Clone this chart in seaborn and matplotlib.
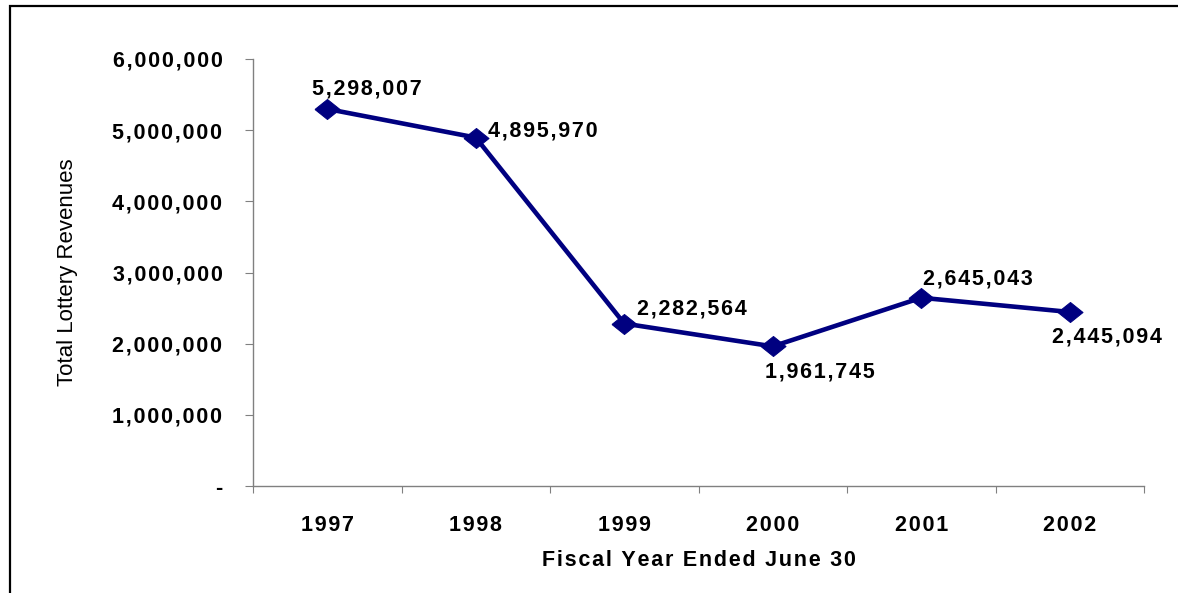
import matplotlib
matplotlib.use("Agg")
import matplotlib.pyplot as plt
from matplotlib.patches import Rectangle
import seaborn as sns
import pandas as pd

# Data
years = ["1997", "1998", "1999", "2000", "2001", "2002"]
revenues = [5298007, 4895970, 2282564, 1961745, 2645043, 2445094]
y_ticks = [0, 1000000, 2000000, 3000000, 4000000, 5000000, 6000000]

# Label offsets (pixels) relative to each point: left edge x, vertical centre y
label_offsets = [(-15, 20), (12, 7), (13, 15), (-8, -26), (2, 19), (-18, -25)]

sns.set_theme(style="white")
plt.rcParams["font.family"] = ["Liberation Sans", "DejaVu Sans"]

GAP = "\u200a"


def spaced(s):
    """Widen text by putting a narrow space between characters."""
    return GAP.join(s)


W, H = 1178, 593
fig = plt.figure(figsize=(W / 100, H / 100), dpi=100)
fig.patch.set_facecolor("white")

# Outer frame around the chart area
fig.add_artist(Rectangle((10 / W, -0.1), 1.2, (H - 6) / H + 0.1,
                         transform=fig.transFigure, fill=False,
                         edgecolor="black", linewidth=1.6))

ax_left, ax_right, ax_top, ax_bottom = 253, 1144, 59, 486
ax = fig.add_axes([ax_left / W, (H - ax_bottom) / H,
                   (ax_right - ax_left) / W, (ax_bottom - ax_top) / H])

df = pd.DataFrame({"pos": range(len(years)), "year": years, "revenue": revenues})

diamond = [(-1, 0), (0, 0.8), (1, 0), (0, -0.8), (-1, 0)]
sns.lineplot(data=df, x="pos", y="revenue", ax=ax, color="#000080",
             linewidth=3.3, marker=diamond, markersize=18,
             markeredgecolor="#000080", markerfacecolor="#000080",
             errorbar=None)

ax.set_xlim(-0.5, len(years) - 0.5)
ax.set_ylim(0, 6000000)

tick_font = dict(fontsize=15.5, fontweight="bold", color="black")

# Y axis
ax.set_yticks(y_ticks)
ax.set_yticklabels([spaced("-") if v == 0 else spaced(f"{v:,}") for v in y_ticks],
                   **tick_font)
ax.tick_params(axis="y", which="major", direction="out", length=6, width=0.8,
               color="#808080", pad=16, left=True)

# X axis: boundary ticks, labels at category centres
ax.set_xticks([i - 0.5 for i in range(len(years) + 1)])
ax.set_xticklabels([])
ax.set_xticks(list(range(len(years))), minor=True)
ax.set_xticklabels([spaced(y) for y in years], minor=True, **tick_font)
ax.tick_params(axis="x", which="major", direction="out", length=5, width=0.8,
               color="#808080", bottom=True)
ax.tick_params(axis="x", which="minor", length=0, pad=21, bottom=True)

for side in ["top", "right"]:
    ax.spines[side].set_visible(False)
for side in ["left", "bottom"]:
    ax.spines[side].set_color("#808080")
    ax.spines[side].set_linewidth(1.0)

ax.set_xlabel(spaced("Fiscal Year Ended June 30"), fontsize=15.5,
              fontweight="bold", color="black")
ax.xaxis.set_label_coords(0.5, (ax_bottom - 560) / (ax_bottom - ax_top))
ax.xaxis.label.set_va("center")
ax.set_ylabel("Total Lottery Revenues", fontsize=16, color="black")
ax.yaxis.set_label_coords((67 - ax_left) / (ax_right - ax_left), 0.5)
ax.yaxis.label.set_va("center")

# Value labels
for i, (v, (dx, dy)) in enumerate(zip(revenues, label_offsets)):
    ax.annotate(spaced(f"{v:,}"), xy=(i, v), xytext=(dx, dy),
                textcoords="offset pixels", ha="left", va="center",
                **tick_font)

fig.savefig("out.png", dpi=100, facecolor="white")
